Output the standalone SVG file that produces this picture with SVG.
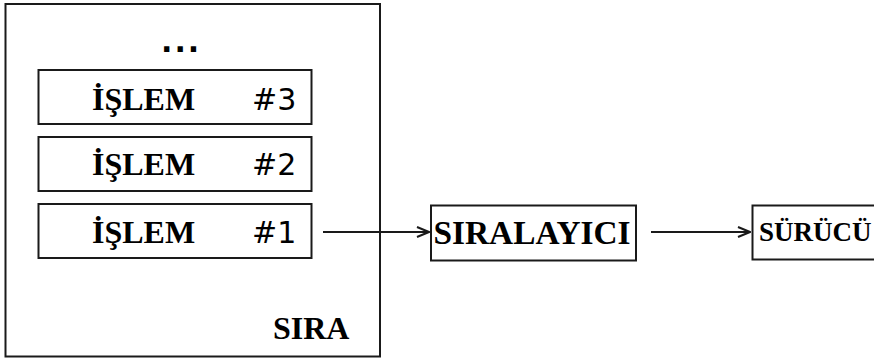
<svg xmlns="http://www.w3.org/2000/svg" width="874" height="362" viewBox="0 0 874 362">
  <defs>
    <style>
      .box { fill: #fff; stroke: #1a1a1a; stroke-width: 2; }
      .edge { fill: none; stroke: #1a1a1a; stroke-width: 2; }
      .serif { font-family: "Liberation Serif", "Times New Roman", serif; font-weight: bold; fill: #000; }
      .sans { font-family: "DejaVu Sans", "Liberation Sans", sans-serif; fill: #000; }
    </style>
    <marker id="chevron" viewBox="0 0 14 12" refX="13" refY="6" markerWidth="14" markerHeight="12" markerUnits="userSpaceOnUse" orient="auto">
      <path d="M1,1 L13,6 L1,11" fill="none" stroke="#1a1a1a" stroke-width="2"/>
    </marker>
  </defs>
  <rect width="874" height="362" fill="#fff"/>

  <!-- queue container -->
  <g id="sira">
    <rect class="box" x="5.5" y="4" width="374.5" height="352.5"/>
    <text class="sans" x="161" y="51.5" font-size="30" font-weight="bold" letter-spacing="2">...</text>
    <text class="serif" x="273" y="339" font-size="32">SIRA</text>
  </g>

  <g id="islem3">
    <rect class="box" x="38.5" y="70" width="273" height="54"/>
    <text class="serif" x="92" y="110" font-size="32">İŞLEM</text>
    <text class="sans" x="252" y="110" font-size="30">#3</text>
  </g>

  <g id="islem2">
    <rect class="box" x="38.5" y="137" width="273" height="54"/>
    <text class="serif" x="92" y="175" font-size="32">İŞLEM</text>
    <text class="sans" x="252" y="175" font-size="30">#2</text>
  </g>

  <g id="islem1">
    <rect class="box" x="38.5" y="204" width="273" height="54"/>
    <text class="serif" x="92" y="243" font-size="32">İŞLEM</text>
    <text class="sans" x="252" y="243" font-size="30">#1</text>
  </g>

  <g id="siralayici">
    <rect class="box" x="431" y="205.5" width="205" height="55"/>
    <text class="serif" x="433.5" y="244" font-size="33" textLength="197" lengthAdjust="spacingAndGlyphs">SIRALAYICI</text>
  </g>

  <g id="surucu">
    <rect class="box" x="752.5" y="205.5" width="130" height="54"/>
    <text class="serif" x="759" y="241" font-size="27">SÜRÜCÜ</text>
  </g>

  <!-- connectors -->
  <g id="connectors">
    <line class="edge" x1="323" y1="232" x2="429" y2="232" marker-end="url(#chevron)"/>
    <line class="edge" x1="651" y1="232" x2="750" y2="232" marker-end="url(#chevron)"/>
  </g>
</svg>
